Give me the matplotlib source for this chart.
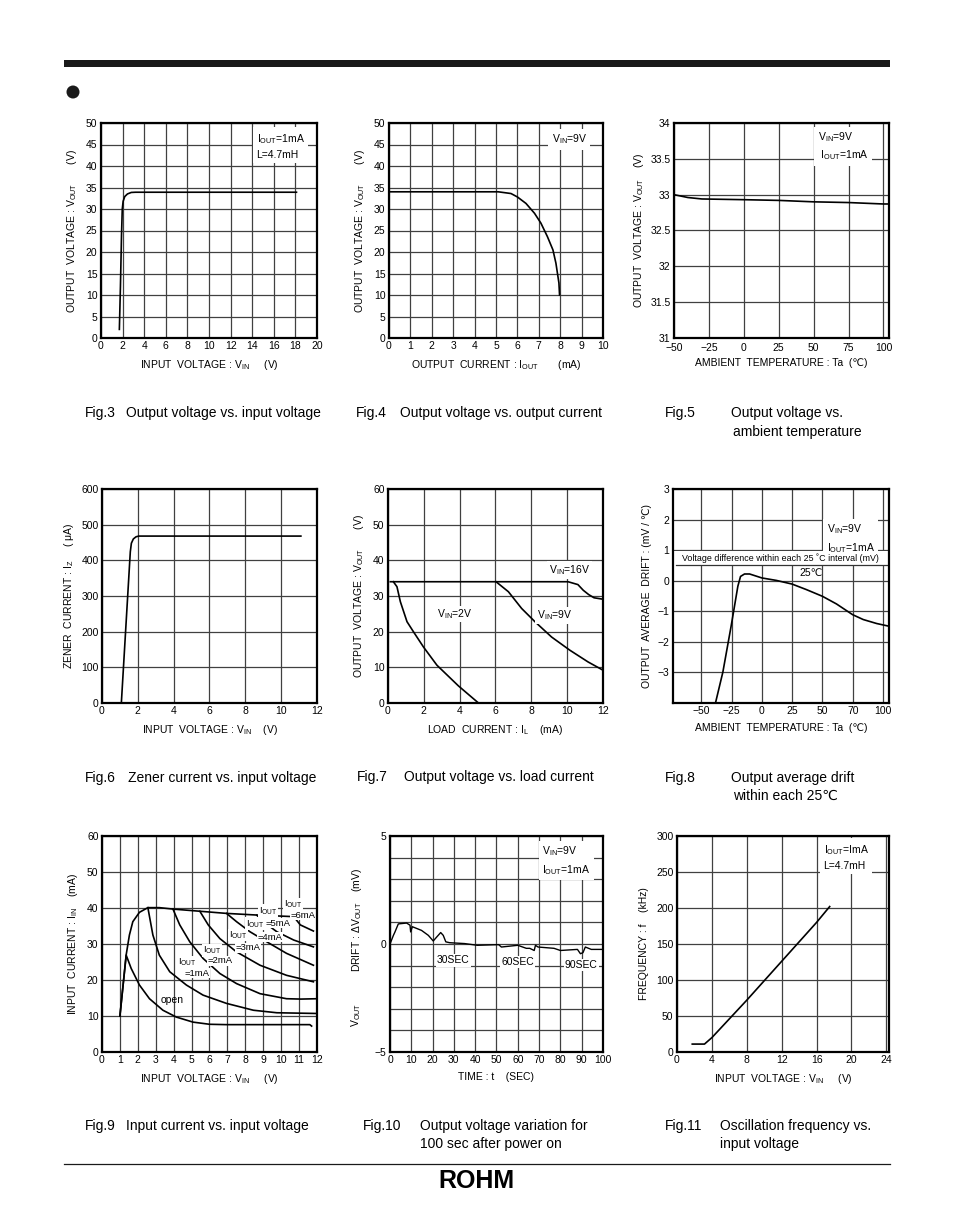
import matplotlib
matplotlib.use("Agg")
import matplotlib.pyplot as plt
from matplotlib.patches import Rectangle, Circle

plt.rcParams['font.family'] = ['Liberation Sans', 'DejaVu Sans']
plt.rcParams['mathtext.fontset'] = 'custom'
plt.rcParams['mathtext.rm'] = 'Liberation Sans'
plt.rcParams['mathtext.it'] = 'Liberation Sans:italic'
plt.rcParams['mathtext.bf'] = 'Liberation Sans:bold'

W, H = 954, 1227
OUT = r'$_\mathrm{OUT}$'
IN = r'$_\mathrm{IN}$'

# Fig.3 output voltage vs input voltage
f3_vin = [1.7, 1.8, 1.9, 1.97, 2.05, 2.2, 2.45, 2.8, 3.2, 18.1]
f3_vout = [2, 12, 24, 30, 31.8, 32.9, 33.5, 33.85, 33.9, 33.9]

# Fig.4 output voltage vs output current
f4_iout = [0, 5.1, 5.7, 6.0, 6.4, 6.8, 7.1, 7.4, 7.66, 7.8, 7.94, 7.97]
f4_vout = [34, 34, 33.6, 32.8, 31.3, 29, 26.7, 23.6, 20.5, 17.4, 12.8, 10]

# Fig.5 output voltage vs ambient temperature
f5_ta = [-50, -40, -30, 0, 25, 50, 75, 100, 104]
f5_vout = [33.0, 32.96, 32.94, 32.93, 32.92, 32.9, 32.89, 32.87, 32.87]

# Fig.6 zener current vs input voltage
f6_vin = [1.08, 1.58, 1.64, 1.75, 1.9, 2.05, 11.1]
f6_iz = [0, 424, 448, 460, 466, 468, 468]

# Fig.7 output voltage vs load current
f7_il_16 = [0.13, 10.05, 10.6, 10.9, 11.2, 11.5, 12]
f7_v_16 = [34, 34, 33.2, 31.6, 30.4, 29.5, 29.1]
f7_il_2 = [0.3, 0.5, 0.69, 1.06, 1.43, 1.98, 2.73, 3.93, 5.05]
f7_v_2 = [34, 32.6, 28.4, 22.8, 19.9, 15.7, 10.6, 4.8, 0]
f7_il_9 = [6.03, 6.72, 7.46, 8.2, 9.13, 10.15, 11.17, 12]
f7_v_9 = [34, 31.2, 26.5, 22.8, 18.5, 14.8, 11.5, 9.2]

# Fig.8 output average drift
f8_ta = [-38.4, -32.3, -25.4, -19.9, -17.7, -14.4, -10.2, 0, 11.9, 24.9, 36.7,
         50, 61.6, 74.9, 83.7, 94.8, 104]
f8_drift = [-4, -2.99, -1.47, -0.18, 0.14, 0.22, 0.22, 0.09, 0.01, -0.11, -0.29,
            -0.51, -0.76, -1.11, -1.27, -1.4, -1.48]

# Fig.9 input current vs input voltage
f9_env_v = [1.0, 1.35, 1.53, 1.72, 2.09, 2.56, 3.2, 3.96, 5.46, 6.95, 8.8, 10.7]
f9_env_i = [10, 27, 32.5, 36.2, 38.8, 40.1, 40.1, 39.7, 39.1, 38.5, 38.0, 37.6]
f9_open_v = [1.0, 1.35, 1.63, 2.09, 2.65, 3.4, 4.15, 5.08, 6.0, 6.95, 11.6, 11.7]
f9_open_i = [10, 26.9, 23.2, 18.6, 14.8, 11.6, 9.7, 8.3, 7.7, 7.6, 7.6, 7.2]
f9_1_v = [2.56, 2.84, 3.2, 3.78, 4.71, 5.64, 6.95, 8.45, 9.76, 12]
f9_1_i = [40.1, 32.5, 26.9, 22.3, 18.6, 15.8, 13.5, 11.6, 10.9, 10.7]
f9_2_v = [3.96, 4.34, 4.9, 5.64, 6.58, 7.51, 8.82, 10.3, 11.1, 12]
f9_2_i = [39.7, 35.3, 30.6, 26, 21.8, 19, 16.2, 14.8, 14.7, 14.8]
f9_3_v = [5.46, 5.93, 6.58, 7.51, 8.82, 10.3, 11.8]
f9_3_i = [39.1, 35.3, 31.5, 27.8, 24.1, 21.3, 19.5]
f9_4_v = [6.95, 7.51, 8.26, 9.2, 10.3, 11.8]
f9_4_i = [38.5, 36.2, 33.4, 30.6, 27.4, 24.1]
f9_5_v = [8.64, 9.0, 9.76, 10.7, 11.8]
f9_5_i = [38.0, 36.2, 33.4, 31.1, 29.2]
f9_6_v = [10.7, 11.07, 11.8]
f9_6_i = [37.6, 35.3, 33.6]

# Fig.10 drift after power on
f10_t = [0, 1.6, 2.3, 3.9, 7.8, 9.4, 9.7, 10.5, 14.8, 18, 20.3, 21.9, 23.8, 25,
         26.2, 28, 35, 41, 51, 52.3, 60, 64, 65.6, 67.7, 68.3, 69.5, 77, 80,
         88, 89.4, 90.6, 91.7, 94.5, 100]
f10_dv = [0, 0.4, 0.55, 0.93, 0.97, 0.87, 0.56, 0.8, 0.63, 0.4, 0.14, 0.32,
          0.53, 0.4, 0.1, 0.06, 0.02, -0.06, -0.03, -0.14, -0.06, -0.2, -0.2,
          -0.3, -0.06, -0.14, -0.2, -0.3, -0.25, -0.45, -0.4, -0.14, -0.25, -0.25]

# Fig.11 oscillation frequency vs input voltage
f11_vin = [1.75, 3.15, 4.0, 6, 8, 10, 12, 14, 16, 17.5]
f11_f = [11, 11, 20, 46, 72, 99, 126, 153, 180, 202]

fig = plt.figure(figsize=(W / 100, H / 100), dpi=100)

FS = 7.5


def make_ax(l, t, r, b, xlim, ylim, xt, yt, xtl=None, ytl=None):
    ax = fig.add_axes([l / W, 1 - b / H, (r - l) / W, (b - t) / H])
    ax.set_xlim(xlim)
    ax.set_ylim(ylim)
    ax.set_xticks(xt)
    ax.set_yticks(yt)
    if xtl is not None:
        ax.set_xticklabels(xtl)
    if ytl is not None:
        ax.set_yticklabels(ytl)
    ax.set_axisbelow(True)
    ax.grid(True, color='#404040', lw=0.9)
    ax.tick_params(length=0, labelsize=FS, pad=2.5)
    for s in ax.spines.values():
        s.set_linewidth(1.6)
    return ax


def note(ax, x, y, s, ha='left', va='top', pad=2.5, fs=FS):
    ax.text(x, y, s, fontsize=fs, ha=ha, va=va, linespacing=1.45, zorder=2.2,
            bbox=dict(facecolor='white', edgecolor='none', pad=pad))


LW = 1.2

# ---- row 1
ax = make_ax(101, 123, 317, 338, (0, 20), (0, 50), range(0, 21, 2), range(0, 51, 5))
ax.plot(f3_vin, f3_vout, 'k', lw=LW)
note(ax, 14.4, 47.8, 'I' + OUT + '=1mA\nL=4.7mH')
ax.set_xlabel('INPUT  VOLTAGE : V' + IN + '     (V)', fontsize=FS, labelpad=5)
ax.set_ylabel('OUTPUT  VOLTAGE : V' + OUT + '       (V)', fontsize=FS, labelpad=5)

ax = make_ax(389, 123, 603, 338, (0, 10), (0, 50), range(0, 11), range(0, 51, 5))
ax.plot(f4_iout, f4_vout, 'k', lw=LW)
note(ax, 7.6, 47.8, 'V' + IN + '=9V')
ax.set_xlabel('OUTPUT  CURRENT : I' + OUT + '       (mA)', fontsize=FS, labelpad=5)
ax.set_ylabel('OUTPUT  VOLTAGE : V' + OUT + '       (V)', fontsize=FS, labelpad=5)

ax = make_ax(674, 123, 889, 338, (-50, 104), (31, 34), [-50, -25, 0, 25, 50, 75, 100],
             [31, 31.5, 32, 32.5, 33, 33.5, 34],
             ['\u221250', '\u221225', '0', '25', '50', '75', '100'],
             ['31', '31.5', '32', '32.5', '33', '33.5', '34'])
ax.tick_params(axis='x', pad=3.5)
ax.plot(f5_ta, f5_vout, 'k', lw=LW)
note(ax, 53, 33.9, 'V' + IN + '=9V\n I' + OUT + '=1mA')
ax.set_xlabel('AMBIENT  TEMPERATURE : Ta  (\u2103)', fontsize=FS, labelpad=4)
ax.set_ylabel('OUTPUT  VOLTAGE : V' + OUT + '    (V)', fontsize=FS, labelpad=3)

# ---- row 2
ax = make_ax(102, 489, 317, 703, (0, 12), (0, 600), range(0, 13, 2), range(0, 601, 100))
ax.plot(f6_vin, f6_iz, 'k', lw=LW)
ax.set_xlabel('INPUT  VOLTAGE : V' + IN + '    (V)', fontsize=FS, labelpad=5)
ax.set_ylabel('ZENER  CURRENT : I' + r'$_\mathrm{Z}$' + '     ( \u03bcA)', fontsize=FS, labelpad=4)

ax = make_ax(388, 489, 603, 703, (0, 12), (0, 60), range(0, 13, 2), range(0, 61, 10))
ax.plot(f7_il_16, f7_v_16, 'k', lw=LW)
ax.plot(f7_il_2, f7_v_2, 'k', lw=LW)
ax.plot(f7_il_9, f7_v_9, 'k', lw=LW)
note(ax, 9.0, 37.3, 'V' + IN + '=16V', va='center', pad=1.5)
note(ax, 2.75, 25.0, 'V' + IN + '=2V', va='center', pad=1)
note(ax, 8.3, 24.6, 'V' + IN + '=9V', va='center', pad=1)
ax.set_xlabel('LOAD  CURRENT : I' + r'$_\mathrm{L}$' + '    (mA)', fontsize=FS, labelpad=5)
ax.set_ylabel('OUTPUT  VOLTAGE : V' + OUT + '       (V)', fontsize=FS, labelpad=5)

ax = make_ax(673, 489, 889, 703, (-73.5, 105), (-4, 3), [-50, -25, 0, 25, 50, 75, 100],
             [-3, -2, -1, 0, 1, 2, 3],
             ['\u221250', '\u221225', '0', '25', '50', '70', '100'],
             ['\u22123', '\u22122', '\u22121', '0', '1', '2', '3'])
ax.plot(f8_ta, f8_drift, 'k', lw=LW)
ax.add_patch(Rectangle((-73.5, 0.52), 178.5, 0.45, facecolor='white', edgecolor='none', zorder=1.5))
ax.plot([-71, 103], [0.52, 0.52], color='#333333', lw=0.9, zorder=2)
ax.text(15.5, 0.74, 'Voltage difference within each 25 \u02daC interval (mV)', fontsize=6.4,
        ha='center', va='center', zorder=3)
ax.text(41, 0.26, '25\u2103', fontsize=FS, ha='center', va='center', zorder=3)
note(ax, 53.5, 1.9, 'V' + IN + '=9V\nI' + OUT + '=1mA')
ax.set_xlabel('AMBIENT  TEMPERATURE : Ta  (\u2103)', fontsize=FS, labelpad=5)
ax.set_ylabel('OUTPUT  AVERAGE  DRIFT : (mV / \u2103)', fontsize=FS, labelpad=4)

# ---- row 3
ax = make_ax(102, 836, 317, 1052, (0, 12), (0, 60), range(0, 13), range(0, 61, 10))
ax.plot(f9_env_v, f9_env_i, 'k', lw=LW)
ax.plot(f9_open_v, f9_open_i, 'k', lw=LW)
for vv, ii in [(f9_1_v, f9_1_i), (f9_2_v, f9_2_i), (f9_3_v, f9_3_i),
               (f9_4_v, f9_4_i), (f9_5_v, f9_5_i), (f9_6_v, f9_6_i)]:
    ax.plot(vv, ii, 'k', lw=LW)
iout_labels = [(4.75, 25.0, 5.3, 21.9, '1mA'), (6.14, 28.3, 6.6, 25.3, '2mA'),
               (7.6, 32.5, 8.15, 28.9, '3mA'), (8.55, 35.6, 9.38, 31.9, '4mA'),
               (9.27, 39.2, 9.83, 35.8, '5mA'), (10.67, 41.1, 11.2, 38.0, '6mA')]
for x1, y1, x2, y2, s in iout_labels:
    note(ax, x1, y1, 'I' + OUT, ha='center', va='center', pad=0.5, fs=6.8)
    note(ax, x2, y2, '=' + s, ha='center', va='center', pad=0.5, fs=6.8)
ax.text(3.9, 14.4, 'open', fontsize=FS, ha='center', va='center')
ax.set_xlabel('INPUT  VOLTAGE : V' + IN + '     (V)', fontsize=FS, labelpad=5)
ax.set_ylabel('INPUT  CURRENT : I' + IN + '    (mA)', fontsize=FS, labelpad=5)

ax = make_ax(390, 836, 603, 1052, (0, 100), (-5, 5), range(0, 101, 10), range(-5, 6),
             None, ['\u22125', '', '', '', '', '0', '', '', '', '', '5'])
ax.plot(f10_t, f10_dv, 'k', lw=1.0)
note(ax, 71.5, 4.6, 'V' + IN + '=9V\nI' + OUT + '=1mA')
for x, y, s in [(29.7, -0.76, '30SEC'), (60, -0.83, '60SEC'), (89.8, -0.96, '90SEC')]:
    note(ax, x, y, s, ha='center', va='center', pad=0.8)
ax.set_xlabel('TIME : t    (SEC)', fontsize=FS, labelpad=5)
ax.set_ylabel('DRIFT : \u0394V' + OUT + '    (mV)', fontsize=FS, labelpad=8)
ax.yaxis.label.set_y(0.61)
ax.text(-0.16, 0.17, 'V' + OUT, fontsize=FS, rotation=90, ha='center', va='center',
        transform=ax.transAxes)

ax = make_ax(677, 836, 889, 1052, (0, 24.3), (0, 300), range(0, 25, 4), range(0, 301, 50))
ax.plot(f11_vin, f11_f, 'k', lw=LW)
note(ax, 16.8, 290, 'I' + OUT + '=ImA\nL=4.7mH')
ax.set_xlabel('INPUT  VOLTAGE : V' + IN + '     (V)', fontsize=FS, labelpad=5)
ax.set_ylabel('FREQUENCY : f    (kHz)', fontsize=FS, labelpad=5)

# ---- page decoration and captions (pixel coordinates)
ov = fig.add_axes([0, 0, 1, 1])
ov.set_xlim(0, W)
ov.set_ylim(H, 0)
ov.axis('off')
ov.add_patch(Rectangle((64, 60), 826, 7, facecolor='#1a1a1a', edgecolor='none'))
ov.add_patch(Circle((73, 92), 6.5, facecolor='#1a1a1a', edgecolor='none'))
ov.plot([64, 890], [1164, 1164], color='#1a1a1a', lw=0.9)
ov.text(476, 1181, 'ROHM', fontsize=18, fontweight='bold', ha='center', va='center')

CFS = 10
captions = [
    (85, 126, 413, 'Fig.3', 'Output voltage vs. input voltage'),
    (356, 400, 413, 'Fig.4', 'Output voltage vs. output current'),
    (665, 731, 413, 'Fig.5', 'Output voltage vs.'),
    (85, 128, 778, 'Fig.6', 'Zener current vs. input voltage'),
    (357, 404, 777, 'Fig.7', 'Output voltage vs. load current'),
    (665, 731, 778, 'Fig.8', 'Output average drift'),
    (85, 126, 1126, 'Fig.9', 'Input current vs. input voltage'),
    (363, 420, 1126, 'Fig.10', 'Output voltage variation for'),
    (665, 720, 1126, 'Fig.11', 'Oscillation frequency vs.'),
]
for x1, x2, y, a, b in captions:
    ov.text(x1, y, a, fontsize=CFS, ha='left', va='center')
    ov.text(x2, y, b, fontsize=CFS, ha='left', va='center')
ov.text(733, 432, 'ambient temperature', fontsize=CFS, ha='left', va='center')
ov.text(733, 796, 'within each 25\u2103', fontsize=CFS, ha='left', va='center')
ov.text(420, 1144, '100 sec after power on', fontsize=CFS, ha='left', va='center')
ov.text(720, 1144, 'input voltage', fontsize=CFS, ha='left', va='center')

fig.savefig('out.png', dpi=100)
